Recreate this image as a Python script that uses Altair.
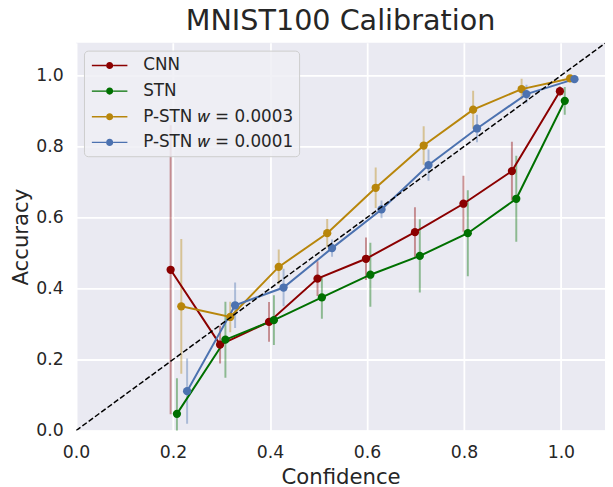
import altair as alt
import pandas as pd

series = ["CNN", "STN", "P-STN 𝑤 = 0.0003", "P-STN 𝑤 = 0.0001"]
colors = ["#8B0000", "#007000", "#B8860B", "#4C72B0"]

cnn_conf = [0.195, 0.297, 0.398, 0.498, 0.598, 0.699, 0.799, 0.899, 0.998]
cnn_acc = [0.453, 0.242, 0.306, 0.428, 0.484, 0.559, 0.639, 0.731, 0.956]
cnn_err = [0.407, 0.053, 0.056, 0.049, 0.060, 0.070, 0.079, 0.083, 0.014]

stn_conf = [0.208, 0.308, 0.408, 0.507, 0.607, 0.709, 0.808, 0.908, 1.008]
stn_acc = [0.047, 0.256, 0.311, 0.375, 0.439, 0.492, 0.556, 0.653, 0.929]
stn_err = [0.100, 0.107, 0.070, 0.060, 0.090, 0.103, 0.121, 0.121, 0.039]

p3_conf = [0.217, 0.318, 0.418, 0.518, 0.618, 0.717, 0.819, 0.919, 1.019]
p3_acc = [0.350, 0.320, 0.461, 0.556, 0.684, 0.803, 0.904, 0.962, 0.992]
p3_err = [0.190, 0.043, 0.049, 0.040, 0.057, 0.054, 0.053, 0.029, 0.005]

p1_conf = [0.229, 0.328, 0.428, 0.528, 0.630, 0.727, 0.827, 0.929, 1.028]
p1_acc = [0.111, 0.353, 0.403, 0.514, 0.623, 0.748, 0.851, 0.948, 0.990]
p1_err = [0.092, 0.064, 0.053, 0.024, 0.025, 0.044, 0.039, 0.026, 0.005]

diag = [0.0, 1.1]
ticks = [0.0, 0.2, 0.4, 0.6, 0.8, 1.0]

rows = []
for name, cs, ac, er in zip(series,
                            [cnn_conf, stn_conf, p3_conf, p1_conf],
                            [cnn_acc, stn_acc, p3_acc, p1_acc],
                            [cnn_err, stn_err, p3_err, p1_err]):
    for c, a, e in zip(cs, ac, er):
        rows.append({"model": name, "grp": name, "conf": c, "acc": a,
                     "lo": a - e, "hi": a + e})
df = pd.DataFrame(rows)
diag_df = pd.DataFrame({"d": diag})

xs = alt.Scale(domain=[0, 1.091], nice=False, zero=False)
ys = alt.Scale(domain=[0, 1.0926], nice=False, zero=False)
cs = alt.Scale(domain=series, range=colors)

sym = ("M-2,-0.08L-0.4,-0.08L-0.4,0.08L-2,0.08Z"
       "M0.4,-0.08L2,-0.08L2,0.08L0.4,0.08Z"
       "M0.4,0A0.4,0.4,0,1,1,-0.4,0A0.4,0.4,0,1,1,0.4,0Z")

leg = alt.Legend(title=None, orient="none", legendX=8, legendY=8,
                 symbolType=sym, symbolSize=324, symbolOpacity=1,
                 symbolStrokeWidth=0, symbolOffset=11,
                 labelOffset=25, rowPadding=9,
                 padding=6, cornerRadius=4,
                 fillColor="rgba(238,238,245,0.85)",
                 strokeColor="#cccccc",
                 labelFont="DejaVu Sans",
                 labelFontSize=17, labelColor="#262626",
                 labelLimit=400)

base = alt.Chart(df)

bars = base.mark_rule(strokeWidth=2, opacity=0.4, clip=True).encode(
    x=alt.X("conf:Q", scale=xs),
    y=alt.Y("lo:Q", scale=ys),
    y2="hi:Q",
    stroke=alt.Stroke("grp:N", scale=cs, sort=series, legend=None),
)

lines = base.mark_line(strokeWidth=2, clip=True).encode(
    x=alt.X("conf:Q", scale=xs),
    y=alt.Y("acc:Q", scale=ys),
    color=alt.Color("model:N", scale=cs, sort=series),
    order="conf:Q",
)

points = base.mark_point(filled=True, size=70, opacity=1, clip=True).encode(
    x=alt.X("conf:Q", scale=xs,
            axis=alt.Axis(values=ticks, format=".1f", title="Confidence")),
    y=alt.Y("acc:Q", scale=ys,
            axis=alt.Axis(values=ticks, format=".1f", title="Accuracy")),
    color=alt.Color("model:N", scale=cs, sort=series, legend=leg),
)

diag_line = alt.Chart(diag_df).mark_line(
    color="black", strokeWidth=1.5, strokeDash=[5.5, 2.4], clip=True
).encode(
    x=alt.X("d:Q", scale=xs),
    y=alt.Y("d:Q", scale=ys),
)

chart = alt.layer(bars, lines, points, diag_line).resolve_scale(
    stroke="independent"
).properties(
    width=536, height=393,
    autosize=alt.AutoSizeParams(type="none"),
    padding={"left": 69, "top": 32, "right": 0, "bottom": 54},
    title=alt.TitleParams("MNIST100 Calibration", fontSize=29,
                          font="DejaVu Sans", fontWeight="normal",
                          color="#262626", anchor="middle", frame="group",
                          baseline="alphabetic", offset=8, dy=24),
).configure_view(
    fill="#EAEAF2", stroke=None
).configure_axis(
    grid=True, gridColor="white", gridWidth=1.8, domain=False, ticks=False,
    tickSize=0, labelFont="DejaVu Sans", labelFontSize=17.5,
    labelColor="#262626", titleFont="DejaVu Sans", titleFontSize=21.5,
    titleFontWeight="normal", titleColor="#262626", labelPadding=13,
    labelFlush=False,
).configure_axisX(titlePadding=6).configure_axisY(titlePadding=3)

chart.save("out.html", embed_options={"renderer": "svg", "actions": False})
